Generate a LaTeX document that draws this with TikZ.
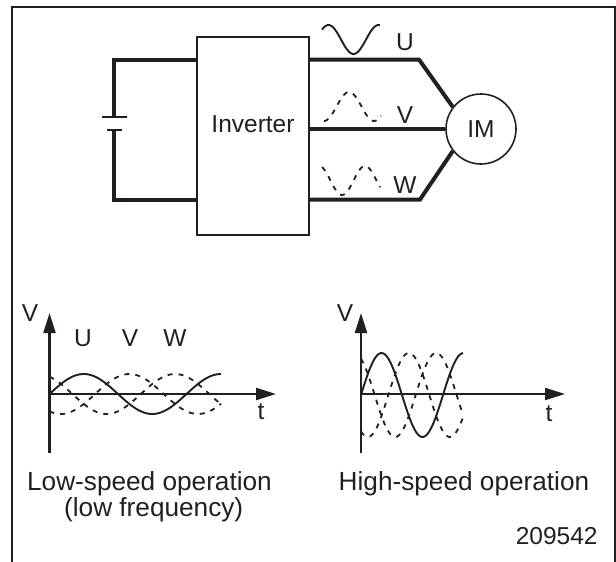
\documentclass[tikz,border=0pt]{standalone}
\usepackage{fontspec}
\setmainfont{Liberation Sans}
\usepackage{tikz}
\usetikzlibrary{arrows.meta}
\definecolor{inkcol}{HTML}{231F20}
\tikzset{
    frameline/.style={draw=inkcol, line width=1.8pt},
    wire/.style={draw=inkcol, line width=4pt, line join=miter},
    thinline/.style={draw=inkcol, line width=1.6pt},
    axisline/.style={draw=inkcol, line width=2.2pt},
    waveline/.style={draw=inkcol, line width=1.9pt},
    dashwave/.style={draw=inkcol, line width=1.8pt, dash pattern=on 5pt off 6pt},
    lbl/.style={text=inkcol, inner sep=0pt, font=\fontsize{24.5}{28}\selectfont},
    caption/.style={text=inkcol, inner sep=0pt, anchor=base, font=\fontsize{26.2}{30}\selectfont},
    axistip/.style={-{Triangle[length=20pt, width=12pt]}}
}

\begin{document}
\begin{tikzpicture}[x=1pt, y=-1pt]
    \useasboundingbox (0, 0) rectangle (616, 562);

    % frame
    \coordinate (frame_bl) at (12, 562);
    \coordinate (frame_tl) at (12, 7);
    \coordinate (frame_tr) at (615, 7);
    \coordinate (frame_br) at (615, 562);
    \draw [frameline] (frame_bl) -- (frame_tl) -- (frame_tr) -- (frame_br);

    \node (inverter) [lbl, thinline, draw, minimum width=112pt, minimum height=198pt] at (253, 136) {};
    \node (inverter_txt) [lbl] at (253, 124) {Inverter};
    \node (motor) [lbl, thinline, draw, circle, minimum size=70pt] at (481, 129) {IM};

    % battery
    \node (plate_long) [thinline, draw, inner sep=0pt, minimum width=25pt, minimum height=0pt] at (114.5, 117) {};
    \node (plate_short) [thinline, draw, inner sep=0pt, minimum width=15pt, minimum height=0pt] at (114.5, 130) {};
    \coordinate (bat_tl) at (114, 59.5);
    \coordinate (bat_bl) at (114, 199.5);
    \coordinate (inv_tl) at (197, 59.5);
    \coordinate (inv_bl) at (197, 199.5);
    \draw [wire] (inv_tl) -- (bat_tl) -- (plate_long.north -| bat_tl);
    \draw [wire] (inv_bl) -- (bat_bl) -- (plate_short.south -| bat_bl);

    % motor feed
    \coordinate (inv_u) at (309, 59.5);
    \coordinate (inv_v) at (309, 129);
    \coordinate (inv_w) at (309, 199.5);
    \coordinate (bend_u) at (419, 59.5);
    \coordinate (bend_w) at (420, 199.5);
    \draw [wire] (inv_u) -- (bend_u) -- (motor.142);
    \draw [wire] (inv_v) -- (motor.west);
    \draw [wire] (inv_w) -- (bend_w) -- (motor.218);

    \node (lab_u) [lbl] at (405, 42) {U};
    \node (lab_v) [lbl] at (405, 115) {V};
    \node (lab_w) [lbl] at (405, 185) {W};

    % small waves
    \draw [waveline] plot [smooth, domain=322:380, samples=50] (\x, {39.5 - 14.5*sin((\x-322)/50*360 + 43)});
    \draw [dashwave] plot [smooth, domain=324:381, samples=50] (\x, {106.5 - 14.5*sin((\x-324)/50*360 - 90)});
    \draw [dashwave] plot [smooth, domain=322:380, samples=50] (\x, {180.5 - 14.5*sin((\x-342)/46*360 - 90)});

    % low speed plot
    \coordinate (low_o) at (49.5, 394);
    \coordinate (low_b) at (49.5, 453);
    \coordinate (low_v) at (49.5, 313);
    \coordinate (low_t) at (276, 394);
    \draw [axisline, axistip] (low_b) -- (low_v);
    \draw [axisline, axistip] (low_o) -- (low_t);
    \node (low_vlab) [lbl] at (30, 313) {V};
    \node (low_tlab) [lbl, anchor=base] at (261, 419) {t};
    \node (low_ulab) [lbl] at (83, 338) {U};
    \node (low_wavev) [lbl] at (130, 338) {V};
    \node (low_wavew) [lbl] at (175, 338) {W};
    \draw [waveline] plot [smooth, domain=49.5:221, samples=70] (\x, {394 - 20*sin((\x-49.5)/137*360)});
    \foreach \ph in {-120, 120}
        \draw [dashwave] plot [smooth, domain=49.5:221, samples=70] (\x, {394 - 20*sin((\x-49.5)/137*360 + \ph)});

    % high speed plot
    \coordinate (high_o) at (361, 394);
    \coordinate (high_b) at (361, 453);
    \coordinate (high_v) at (361, 313);
    \coordinate (high_t) at (565, 394);
    \draw [axisline, axistip] (high_b) -- (high_v);
    \draw [axisline, axistip] (high_o) -- (high_t);
    \node (high_vlab) [lbl] at (345, 313) {V};
    \node (high_tlab) [lbl, anchor=base] at (549, 421) {t};
    \draw [waveline] plot [smooth, domain=361:463, samples=70] (\x, {395 - 42*sin((\x-361)/82*360)});
    \foreach \ph in {-120, 120}
        \draw [dashwave] plot [smooth, domain=361:463, samples=70] (\x, {395 - 42*sin((\x-361)/82*360 + \ph)});

    \node (low_cap1) [caption] at (149.5, 490) {Low-speed operation};
    \node (low_cap2) [caption] at (153.7, 516.7) {(low frequency)};
    \node (high_cap) [caption] at (464, 490) {High-speed operation};
    \node (drawing_no) [lbl, anchor=base] at (556.7, 544) {209542};
\end{tikzpicture}
\end{document}
